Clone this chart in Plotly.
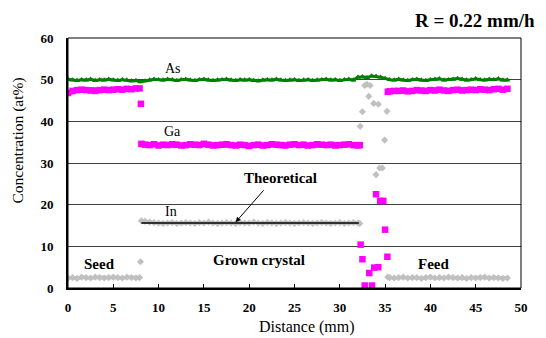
import plotly.graph_objects as go

# ---------------- data ----------------
SEED_X = [0.0, 0.5, 1.0, 1.5, 2.0, 2.5, 3.0, 3.5, 4.0, 4.5, 5.0, 5.5, 6.0, 6.5, 7.0, 7.5, 7.9]
GROWN_X = [8.1, 8.5, 9.0, 9.5, 10.0, 10.5, 11.0, 11.5, 12.0, 12.5,
           13.0, 13.5, 14.0, 14.5, 15.0, 15.5, 16.0, 16.5, 17.0, 17.5,
           18.0, 18.5, 19.0, 19.5, 20.0, 20.5, 21.0, 21.5, 22.0, 22.5,
           23.0, 23.5, 24.0, 24.5, 25.0, 25.5, 26.0, 26.5, 27.0, 27.5,
           28.0, 28.5, 29.0, 29.5, 30.0, 30.5, 31.0, 31.5, 32.0, 32.2]
FEED_X = [35.3, 35.5, 36.0, 36.5, 37.0, 37.5, 38.0, 38.5, 39.0, 39.5,
          40.0, 40.5, 41.0, 41.5, 42.0, 42.5, 43.0, 43.5, 44.0, 44.5,
          45.0, 45.5, 46.0, 46.5, 47.0, 47.5, 48.0, 48.5]

GA_SEED = [46.8, 47.3, 47.5, 47.6, 47.5, 47.4, 47.3, 47.5, 47.6, 47.5, 47.6, 47.7, 47.6, 47.8, 47.7, 47.9, 47.9]
GA_GROWN = [34.6, 34.4, 34.3, 34.5, 34.2, 34.4, 34.3, 34.5, 34.4, 34.2,
            34.3, 34.5, 34.4, 34.3, 34.6, 34.4, 34.2, 34.3, 34.4, 34.5,
            34.3, 34.2, 34.4, 34.3, 34.1, 34.3, 34.4, 34.2, 34.3, 34.5,
            34.4, 34.3, 34.2, 34.4, 34.5, 34.3, 34.4, 34.2, 34.3, 34.5,
            34.4, 34.3, 34.4, 34.2, 34.3, 34.4, 34.5, 34.3, 34.2, 34.3]
GA_FEED = [47.1, 47.2, 47.3, 47.3, 47.4, 47.2, 47.3, 47.5, 47.4, 47.3,
           47.5, 47.4, 47.6, 47.4, 47.3, 47.5, 47.6, 47.4, 47.5, 47.6,
           47.5, 47.7, 47.6, 47.5, 47.7, 47.8, 47.6, 47.8]
GA_T_X = [8.05, 32.3, 32.5, 32.75, 33.25, 33.55, 33.8, 34.0, 34.25, 34.45, 34.8, 35.0, 35.25]
GA_T_Y = [44.2, 10.4, 6.9, 0.6, 3.6, 0.6, 4.9, 22.5, 5.0, 20.9, 20.9, 14.0, 7.5]

IN_SEED = [2.4, 2.5, 2.3, 2.6, 2.5, 2.4, 2.6, 2.5, 2.4, 2.5, 2.6, 2.5, 2.4, 2.6, 2.5, 2.4, 2.5]
IN_GROWN = [16.1, 16.0, 15.8, 15.7, 15.6, 15.5, 15.6, 15.7, 15.5, 15.6,
            15.7, 15.6, 15.5, 15.7, 15.6, 15.8, 15.6, 15.5, 15.6, 15.7,
            15.6, 15.5, 15.7, 15.6, 15.6, 15.8, 15.6, 15.5, 15.7, 15.6,
            15.5, 15.6, 15.7, 15.6, 15.5, 15.6, 15.7, 15.6, 15.5, 15.6,
            15.7, 15.6, 15.5, 15.6, 15.7, 15.5, 15.6, 15.7, 15.6, 15.5]
IN_FEED = [2.6, 2.5, 2.4, 2.5, 2.6, 2.4, 2.5, 2.5, 2.3, 2.5,
           2.6, 2.4, 2.5, 2.4, 2.6, 2.5, 2.4, 2.5, 2.3, 2.5,
           2.4, 2.5, 2.6, 2.4, 2.5, 2.4, 2.3, 2.4]
IN_T_X = [8.0, 32.25, 32.5, 32.75, 33.0, 33.2, 33.35, 33.75, 34.0, 34.25, 34.4, 34.7, 34.95, 35.2]
IN_T_Y = [6.3, 38.8, 42.3, 48.6, 48.9, 46.0, 48.6, 44.3, 27.2, 44.1, 28.8, 28.8, 35.5, 42.4]

AS_X = [0.0, 0.5, 1.0, 1.5, 2.0, 2.5, 3.0, 3.5, 4.0, 4.5,
        5.0, 5.5, 6.0, 6.5, 7.0, 7.5, 8.0, 8.5, 9.0, 9.5,
        10.0, 10.5, 11.0, 11.5, 12.0, 12.5, 13.0, 13.5, 14.0, 14.5,
        15.0, 15.5, 16.0, 16.5, 17.0, 17.5, 18.0, 18.5, 19.0, 19.5,
        20.0, 20.5, 21.0, 21.5, 22.0, 22.5, 23.0, 23.5, 24.0, 24.5,
        25.0, 25.5, 26.0, 26.5, 27.0, 27.5, 28.0, 28.5, 29.0, 29.5,
        30.0, 30.5, 31.0, 31.5, 32.0, 32.5, 33.0, 33.5, 34.0, 34.5,
        35.0, 35.5, 36.0, 36.5, 37.0, 37.5, 38.0, 38.5, 39.0, 39.5,
        40.0, 40.5, 41.0, 41.5, 42.0, 42.5, 43.0, 43.5, 44.0, 44.5,
        45.0, 45.5, 46.0, 46.5, 47.0, 47.5, 48.0, 48.5]
AS_Y = [50.1, 49.9, 49.8, 50.0, 49.9, 50.1, 49.8, 50.0, 49.9, 50.1,
        49.9, 49.8, 50.0, 49.9, 49.7, 49.8, 49.5, 49.7, 49.9, 50.1,
        50.0, 49.9, 50.1, 50.0, 49.8, 50.0, 50.1, 49.9, 49.8, 50.0,
        50.1, 49.9, 49.8, 49.9, 50.0, 50.1, 49.9, 49.8, 50.0, 49.9,
        50.0, 49.8, 49.7, 49.9, 50.0, 49.9, 50.1, 49.9, 49.8, 49.9,
        50.0, 49.8, 49.9, 50.0, 49.8, 49.9, 50.0, 50.1, 49.9, 50.0,
        49.8, 50.0, 50.1, 49.9, 50.6, 50.7, 50.5, 50.9, 50.8, 50.6,
        50.3, 50.0, 49.9, 50.1, 49.9, 49.8, 50.0, 50.1, 49.9, 49.8,
        50.0, 50.1, 50.2, 49.9, 50.0, 50.1, 50.3, 50.1, 49.9, 50.0,
        50.2, 50.0, 49.9, 50.1, 50.0, 50.2, 49.9, 49.9]

THEORY_X = [8.1, 32.1]
THEORY_Y = [15.6, 15.6]

X_TICKS = [0, 5, 10, 15, 20, 25, 30, 35, 40, 45, 50]
Y_TICKS = [0, 10, 20, 30, 40, 50, 60]

# ---------------- styling ----------------
SERIF = "Liberation Serif"
GRAY = "#c0c0c0"
MAGENTA = "#ff00ff"
GREEN = "#008000"

fig = go.Figure()

# In (gray diamonds): continuous bands + scattered transition points
in_x = SEED_X + [None] + GROWN_X + [None] + FEED_X
in_y = IN_SEED + [None] + IN_GROWN + [None] + IN_FEED
fig.add_trace(go.Scatter(x=in_x, y=in_y, mode="lines+markers", name="In",
                         line=dict(color=GRAY, width=3.5),
                         marker=dict(symbol="diamond", size=5.5, color=GRAY,
                                     line=dict(width=0))))
fig.add_trace(go.Scatter(x=IN_T_X, y=IN_T_Y, mode="markers", name="In",
                         marker=dict(symbol="diamond", size=5.5, color=GRAY,
                                     line=dict(width=0))))

# Ga (magenta squares)
ga_x = SEED_X + [None] + GROWN_X + [None] + FEED_X
ga_y = GA_SEED + [None] + GA_GROWN + [None] + GA_FEED
fig.add_trace(go.Scatter(x=ga_x, y=ga_y, mode="lines+markers", name="Ga",
                         line=dict(color=MAGENTA, width=5),
                         marker=dict(symbol="square", size=6.5, color=MAGENTA,
                                     line=dict(width=0))))
fig.add_trace(go.Scatter(x=GA_T_X, y=GA_T_Y, mode="markers", name="Ga",
                         marker=dict(symbol="square", size=6.5, color=MAGENTA,
                                     line=dict(width=0))))

# As (green triangles)
fig.add_trace(go.Scatter(x=AS_X, y=AS_Y, mode="lines+markers", name="As",
                         line=dict(color=GREEN, width=3),
                         marker=dict(symbol="triangle-up", size=5.5, color=GREEN,
                                     line=dict(width=0))))

fig.add_trace(go.Scatter(x=THEORY_X, y=THEORY_Y, mode="lines", name="Theoretical",
                         line=dict(color="black", width=1.5)))

# frame (top & right thin lines)
fig.add_shape(type="rect", xref="paper", yref="paper", x0=0, y0=0, x1=1, y1=1,
              line=dict(color="black", width=1), layer="above")

def ann(text, x, y, size=15, bold=True, **kw):
    fig.add_annotation(x=x, y=y, xref="x", yref="y", text=text, showarrow=False,
                       font=dict(family=SERIF, size=size, color="black",
                                 weight="bold" if bold else "normal"), **kw)

ann("As", 11.55, 52.7, size=14, bold=False)
ann("Ga", 11.55, 37.6, size=14, bold=False)
ann("In", 11.4, 18.4, size=14, bold=False)
ann("Theoretical", 23.4, 26.5)
ann("Seed", 3.46, 5.85)
ann("Grown crystal", 21.1, 6.8)
ann("Feed", 40.3, 5.85)

# arrow from label to theoretical line
fig.add_annotation(x=18.5, y=15.8, ax=21.74, ay=23.8, xref="x", yref="y",
                   axref="x", ayref="y", text="", showarrow=True,
                   arrowhead=2, arrowsize=1, arrowwidth=1, arrowcolor="black")

# title
fig.add_annotation(x=1.035, y=1.07, xref="paper", yref="paper", xanchor="right",
                   yanchor="middle", text="R = 0.22 mm/h", showarrow=False,
                   font=dict(family=SERIF, size=19, color="black", weight="bold"))

# axis titles
fig.add_annotation(x=0.527, y=0, xref="paper", yref="paper", xanchor="center",
                   yanchor="middle", yshift=-39, text="Distance (mm)", showarrow=False,
                   font=dict(family=SERIF, size=16, color="black"))
fig.add_annotation(x=0, y=0.59, xref="paper", yref="paper", xanchor="center",
                   yanchor="middle", xshift=-51, text="Concentration (at%)", textangle=-90,
                   showarrow=False, font=dict(family=SERIF, size=15.5, color="black"))

fig.update_layout(
    width=546, height=338,
    margin=dict(l=68, r=25, t=38, b=50),
    paper_bgcolor="white", plot_bgcolor="white",
    showlegend=False,
    font=dict(family=SERIF, color="black"),
    xaxis=dict(range=[0, 50], tickvals=X_TICKS, ticks="inside", ticklen=4,
               tickwidth=1, tickcolor="black", showline=True, linecolor="black",
               linewidth=2, showgrid=False, zeroline=False,
               tickfont=dict(family=SERIF, size=13, color="black", weight="bold"),
               ticklabelstandoff=6),
    yaxis=dict(range=[0, 60], tickvals=Y_TICKS, ticks="", showline=True,
               linecolor="black", linewidth=2, showgrid=True, gridcolor="#404040",
               gridwidth=1, zeroline=False,
               tickfont=dict(family=SERIF, size=13, color="black", weight="bold"),
               ticklabelstandoff=10),
)

fig.write_html("out.html")
